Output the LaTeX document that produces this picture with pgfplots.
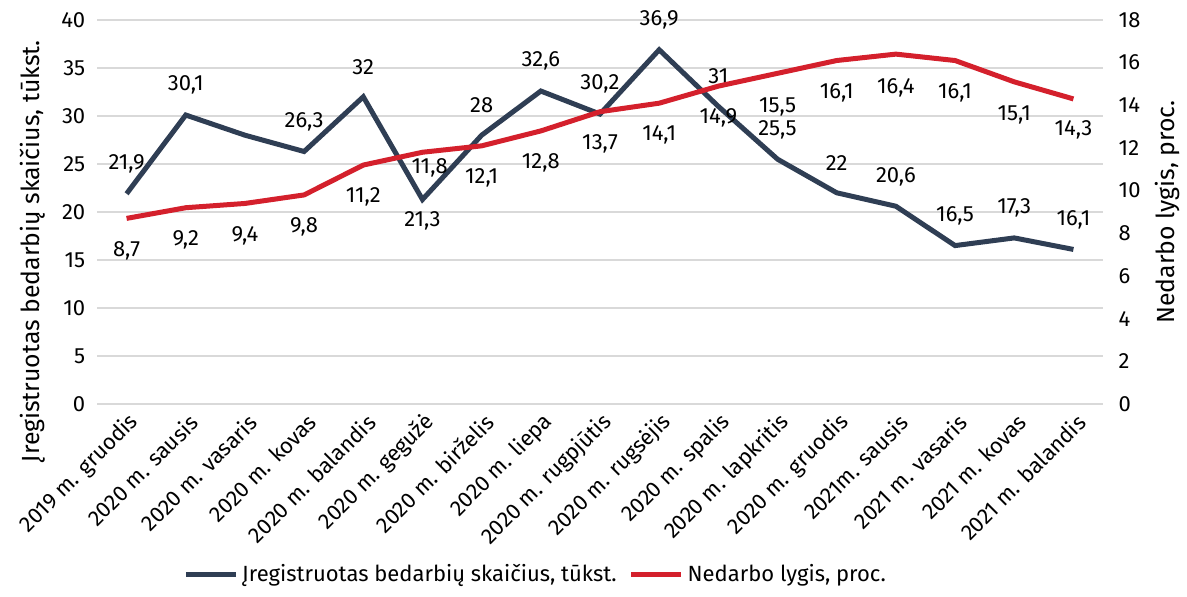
\documentclass[border=0pt]{standalone}
\usepackage{fontspec}
\setmainfont{Fira Sans}
\usepackage{pgfplots}
\pgfplotsset{compat=1.18}
\usepackage{pgfplotstable}
\definecolor{darkblue}{RGB}{47,62,84}
\definecolor{redline}{RGB}{212,32,44}
\definecolor{gridgray}{RGB}{217,217,217}

% series values
\pgfplotstableread{
x y
0 21.9
1 30.1
2 28.0
3 26.3
4 32.0
5 21.3
6 28.0
7 32.6
8 30.2
9 36.9
10 31.0
11 25.5
12 22.0
13 20.6
14 16.5
15 17.3
16 16.1
}\darkdata

\pgfplotstableread{
x y
0 8.7
1 9.2
2 9.4
3 9.8
4 11.2
5 11.8
6 12.1
7 12.8
8 13.7
9 14.1
10 14.9
11 15.5
12 16.1
13 16.4
14 16.1
15 15.1
16 14.3
}\reddata

% data label positions (axis units)
\pgfplotstableread{
x yl lab
0 25.0 21,9
1 33.2 30,1
3 29.4 26,3
4 35.1 32
5 19.1 21,3
6 31.1 28
7 35.7 32,6
8 33.3 30,2
9 40.0 36,9
10 34.1 31
11 28.6 25,5
12 25.1 22
13 23.7 20,6
14 19.6 16,5
15 20.4 17,3
16 19.2 16,1
}\darklab

\pgfplotstableread{
x yl lab
0 7.2 8,7
1 7.7 9,2
2 7.9 9,4
3 8.3 9,8
4 9.7 11,2
5.12 11.05 11,8
6 10.6 12,1
7 11.3 12,8
8 12.2 13,7
9 12.6 14,1
10 13.4 14,9
11 13.9 15,5
12 14.58 16,1
13 14.81 16,4
14 14.58 16,1
15 13.55 15,1
16 12.85 14,3
}\redlab

\begin{document}
\fontsize{11}{13}\selectfont
\begin{tikzpicture}
\pgfplotsset{
  common/.style={
    width=503pt, height=192pt, scale only axis,
    xmin=-0.5, xmax=16.5,
    tick style={draw=none},
    /pgf/number format/assume math mode=true,
    ticklabel style={font=\fontsize{11}{13}\selectfont},
    label style={font=\fontsize{12.4}{14}\selectfont},
  },
  lab/.style={
    draw=none, mark=none, forget plot,
    nodes near coords,
    nodes near coords align={center},
    point meta=explicit symbolic,
    nodes near coords style={anchor=center, inner sep=0pt, text=black, font=\fontsize{11}{13}\selectfont},
  },
}
\begin{axis}[common,
  axis line style={draw=none},
  axis y line*=left,
  axis x line*=bottom,
  ymin=0, ymax=40, ytick={0,5,...,40},
  ymajorgrids, grid style={gridgray, line width=0.8pt},
  xtick={0,...,16},
  xticklabels={2019 m. gruodis,2020 m. sausis,2020 m. vasaris,2020 m. kovas,2020 m. balandis,2020 m. gegužė,2020 m. birželis,2020 m. liepa,2020 m. rugpjūtis,2020 m. rugsėjis,2020 m. spalis,2020 m. lapkritis,2020 m. gruodis,2021m. sausis,2021 m. vasaris,2021 m. kovas,2021 m. balandis},
  xticklabel style={rotate=45, anchor=east, inner sep=1pt, xshift=-1pt, yshift=-8pt},
  yticklabel style={xshift=-2pt},
  ylabel={Įregistruotas bedarbių skaičius, tūkst.},
  ylabel style={at={(axis description cs:-0.0636,0.398)}, anchor=center},
]
\addplot[darkblue, line width=2.5pt] table[x=x, y=y] {\darkdata};
\addplot[lab] table[x=x, y=yl, meta=lab] {\darklab};
\end{axis}
\begin{axis}[common,
  axis line style={draw=none},
  axis y line*=right,
  axis x line=none,
  ymin=0, ymax=18, ytick={0,2,...,18},
  yticklabel style={xshift=4pt},
  ylabel={Nedarbo lygis, proc.},
  ylabel style={at={(axis description cs:1.0636,0.5)}, anchor=center},
  legend style={at={(axis description cs:0.0855,-0.445)}, anchor=west, draw=none, fill=none,
    legend columns=2, font=\fontsize{11}{13}\selectfont,
    /tikz/every even column/.append style={column sep=4pt},
    inner sep=0pt},
  legend cell align=left,
  legend image code/.code={\draw[#1, line width=2.5pt] (0pt,0pt) -- (25pt,0pt);},
]
\addlegendimage{darkblue}
\addlegendentry{Įregistruotas bedarbių skaičius, tūkst.}
\addplot[redline, line width=2.5pt] table[x=x, y=y] {\reddata};
\addlegendentry{Nedarbo lygis, proc.}
\addplot[lab] table[x=x, y=yl, meta=lab] {\redlab};
\end{axis}
\path (-48.5pt,-96.5pt) rectangle (545pt,202pt);
\end{tikzpicture}
\end{document}
